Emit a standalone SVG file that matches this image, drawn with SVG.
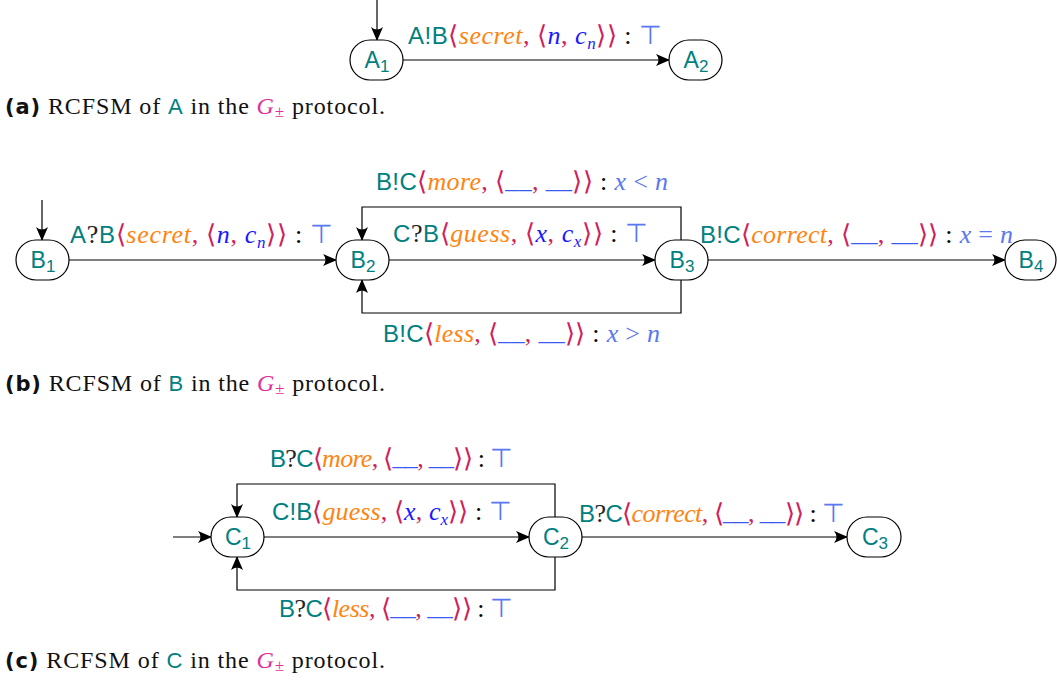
<svg xmlns="http://www.w3.org/2000/svg" width="1057" height="681" viewBox="0 0 1057 681">
<style>
text{font-size:26px;font-family:"Liberation Serif","Times New Roman",serif}
.node rect{fill:#fff;stroke:#000;stroke-width:1.2}
.nl{font-family:"Liberation Sans",Arial,sans-serif;fill:#008080;text-anchor:middle;font-size:23px}
.t{font-family:"Liberation Sans",Arial,sans-serif;fill:#008080;font-size:24px}
.q{fill:#222}
.o{font-style:italic;fill:#ff8410}
.r{fill:#d0205a}
.b{font-style:italic;fill:#1a1aff}
.lb{fill:#5a78f0}
.lbi{font-style:italic;fill:#5a78f0}
.u{fill:#3a5af0}
.k{fill:#000}
.m{font-style:italic;fill:#e0309a}
.bold{font-family:"DejaVu Sans",sans-serif;font-weight:bold;font-size:21px}
.cap{fill:#111;font-size:24px}
.cap .t{font-size:22px}
.edge{fill:none;stroke:#000;stroke-width:1.2;marker-end:url(#ah)}
</style>
<defs>
<marker id="ah" viewBox="0 0 14 12" refX="13" refY="6" markerWidth="14" markerHeight="12" markerUnits="userSpaceOnUse" orient="auto">
<path d="M0,0 Q5,6 0,12 L14,6 Z" fill="#000"/>
</marker>
</defs>

<g id="connectors">
<path class="edge" d="M377,0 V40"/>
<path class="edge" d="M403,60 H669"/>
<path class="edge" d="M42,200 V240"/>
<path class="edge" d="M69,260 H336"/>
<path class="edge" d="M389,260 H655"/>
<path class="edge" d="M681,240 V207 H362 V240"/>
<path class="edge" d="M681,280 V313 H362 V280"/>
<path class="edge" d="M708,260 H1005"/>
<path class="edge" d="M173,537 H211"/>
<path class="edge" d="M264,537 H529"/>
<path class="edge" d="M555,517 V484 H237 V517"/>
<path class="edge" d="M555,557 V590 H237 V557"/>
<path class="edge" d="M582,537 H847"/>
</g>

<g id="labels">
<text x="408" y="44" textLength="254" lengthAdjust="spacing"><tspan class="t">A!B</tspan><tspan class="r">⟨</tspan><tspan class="o">secret</tspan><tspan class="r">, ⟨</tspan><tspan class="b">n</tspan><tspan class="r">, </tspan><tspan class="b">c</tspan><tspan class="b" font-size="17" dy="5">n</tspan><tspan class="r" dy="-5">⟩⟩</tspan><tspan class="k"> : </tspan><tspan class="lb">⊤</tspan></text>

<text x="70" y="243" textLength="263" lengthAdjust="spacing"><tspan class="t">A</tspan><tspan class="q">?</tspan><tspan class="t">B</tspan><tspan class="r">⟨</tspan><tspan class="o">secret</tspan><tspan class="r">, ⟨</tspan><tspan class="b">n</tspan><tspan class="r">, </tspan><tspan class="b">c</tspan><tspan class="b" font-size="17" dy="5">n</tspan><tspan class="r" dy="-5">⟩⟩</tspan><tspan class="k"> : </tspan><tspan class="lb">⊤</tspan></text>

<text x="376" y="190" textLength="292" lengthAdjust="spacing"><tspan class="t">B!C</tspan><tspan class="r">⟨</tspan><tspan class="o">more</tspan><tspan class="r">, ⟨</tspan><tspan class="u" dy="-2">__</tspan><tspan class="r" dy="2">, </tspan><tspan class="u" dy="-2">__</tspan><tspan class="r" dy="2">⟩⟩</tspan><tspan class="k"> : </tspan><tspan class="lbi">x</tspan><tspan class="lb"> &lt; </tspan><tspan class="lbi">n</tspan></text>

<text x="393" y="242" textLength="255" lengthAdjust="spacing"><tspan class="t">C</tspan><tspan class="q">?</tspan><tspan class="t">B</tspan><tspan class="r">⟨</tspan><tspan class="o">guess</tspan><tspan class="r">, ⟨</tspan><tspan class="b">x</tspan><tspan class="r">, </tspan><tspan class="b">c</tspan><tspan class="b" font-size="17" dy="5">x</tspan><tspan class="r" dy="-5">⟩⟩</tspan><tspan class="k"> : </tspan><tspan class="lb">⊤</tspan></text>

<text x="383" y="342" textLength="277" lengthAdjust="spacing"><tspan class="t">B!C</tspan><tspan class="r">⟨</tspan><tspan class="o">less</tspan><tspan class="r">, ⟨</tspan><tspan class="u" dy="-2">__</tspan><tspan class="r" dy="2">, </tspan><tspan class="u" dy="-2">__</tspan><tspan class="r" dy="2">⟩⟩</tspan><tspan class="k"> : </tspan><tspan class="lbi">x</tspan><tspan class="lb"> &gt; </tspan><tspan class="lbi">n</tspan></text>

<text x="700" y="243" textLength="313" lengthAdjust="spacing"><tspan class="t">B!C</tspan><tspan class="r">⟨</tspan><tspan class="o">correct</tspan><tspan class="r">, ⟨</tspan><tspan class="u" dy="-2">__</tspan><tspan class="r" dy="2">, </tspan><tspan class="u" dy="-2">__</tspan><tspan class="r" dy="2">⟩⟩</tspan><tspan class="k"> : </tspan><tspan class="lbi">x</tspan><tspan class="lb"> = </tspan><tspan class="lbi">n</tspan></text>

<text x="270" y="467" textLength="243" lengthAdjust="spacing"><tspan class="t">B</tspan><tspan class="q">?</tspan><tspan class="t">C</tspan><tspan class="r">⟨</tspan><tspan class="o">more</tspan><tspan class="r">, ⟨</tspan><tspan class="u" dy="-2">__</tspan><tspan class="r" dy="2">, </tspan><tspan class="u" dy="-2">__</tspan><tspan class="r" dy="2">⟩⟩</tspan><tspan class="k"> : </tspan><tspan class="lb">⊤</tspan></text>

<text x="272" y="520" textLength="240" lengthAdjust="spacing"><tspan class="t">C!B</tspan><tspan class="r">⟨</tspan><tspan class="o">guess</tspan><tspan class="r">, ⟨</tspan><tspan class="b">x</tspan><tspan class="r">, </tspan><tspan class="b">c</tspan><tspan class="b" font-size="17" dy="5">x</tspan><tspan class="r" dy="-5">⟩⟩</tspan><tspan class="k"> : </tspan><tspan class="lb">⊤</tspan></text>

<text x="279" y="617" textLength="234" lengthAdjust="spacing"><tspan class="t">B</tspan><tspan class="q">?</tspan><tspan class="t">C</tspan><tspan class="r">⟨</tspan><tspan class="o">less</tspan><tspan class="r">, ⟨</tspan><tspan class="u" dy="-2">__</tspan><tspan class="r" dy="2">, </tspan><tspan class="u" dy="-2">__</tspan><tspan class="r" dy="2">⟩⟩</tspan><tspan class="k"> : </tspan><tspan class="lb">⊤</tspan></text>

<text x="579" y="522" textLength="266" lengthAdjust="spacing"><tspan class="t">B</tspan><tspan class="q">?</tspan><tspan class="t">C</tspan><tspan class="r">⟨</tspan><tspan class="o">correct</tspan><tspan class="r">, ⟨</tspan><tspan class="u" dy="-2">__</tspan><tspan class="r" dy="2">, </tspan><tspan class="u" dy="-2">__</tspan><tspan class="r" dy="2">⟩⟩</tspan><tspan class="k"> : </tspan><tspan class="lb">⊤</tspan></text>
</g>

<g id="A1" class="node"><rect x="350" y="40" width="53" height="40" rx="20"/><text class="nl" x="377" y="68">A<tspan font-size="17" dy="4">1</tspan></text></g>
<g id="A2" class="node"><rect x="669" y="40" width="53" height="40" rx="20"/><text class="nl" x="696" y="68">A<tspan font-size="17" dy="4">2</tspan></text></g>
<g id="B1" class="node"><rect x="16" y="240" width="53" height="40" rx="20"/><text class="nl" x="43" y="268">B<tspan font-size="17" dy="4">1</tspan></text></g>
<g id="B2" class="node"><rect x="336" y="240" width="53" height="40" rx="20"/><text class="nl" x="363" y="268">B<tspan font-size="17" dy="4">2</tspan></text></g>
<g id="B3" class="node"><rect x="655" y="240" width="53" height="40" rx="20"/><text class="nl" x="682" y="268">B<tspan font-size="17" dy="4">3</tspan></text></g>
<g id="B4" class="node"><rect x="1005" y="240" width="51" height="40" rx="20"/><text class="nl" x="1031" y="268">B<tspan font-size="17" dy="4">4</tspan></text></g>
<g id="C1" class="node"><rect x="211" y="517" width="53" height="40" rx="20"/><text class="nl" x="238" y="545">C<tspan font-size="17" dy="4">1</tspan></text></g>
<g id="C2" class="node"><rect x="529" y="517" width="53" height="40" rx="20"/><text class="nl" x="556" y="545">C<tspan font-size="17" dy="4">2</tspan></text></g>
<g id="C3" class="node"><rect x="847" y="517" width="54" height="40" rx="20"/><text class="nl" x="875" y="545">C<tspan font-size="17" dy="4">3</tspan></text></g>

<g id="captions">
<text x="5" y="114" class="cap" textLength="380" lengthAdjust="spacing"><tspan class="bold">(a)</tspan> RCFSM of <tspan class="t">A</tspan> in the <tspan class="m">G</tspan><tspan class="m" font-size="17" dy="3" font-style="normal">±</tspan><tspan dy="-3"> protocol.</tspan></text>
<text x="5" y="391" class="cap" textLength="380" lengthAdjust="spacing"><tspan class="bold">(b)</tspan> RCFSM of <tspan class="t">B</tspan> in the <tspan class="m">G</tspan><tspan class="m" font-size="17" dy="3" font-style="normal">±</tspan><tspan dy="-3"> protocol.</tspan></text>
<text x="5" y="668" class="cap" textLength="380" lengthAdjust="spacing"><tspan class="bold">(c)</tspan> RCFSM of <tspan class="t">C</tspan> in the <tspan class="m">G</tspan><tspan class="m" font-size="17" dy="3" font-style="normal">±</tspan><tspan dy="-3"> protocol.</tspan></text>
</g>
</svg>
